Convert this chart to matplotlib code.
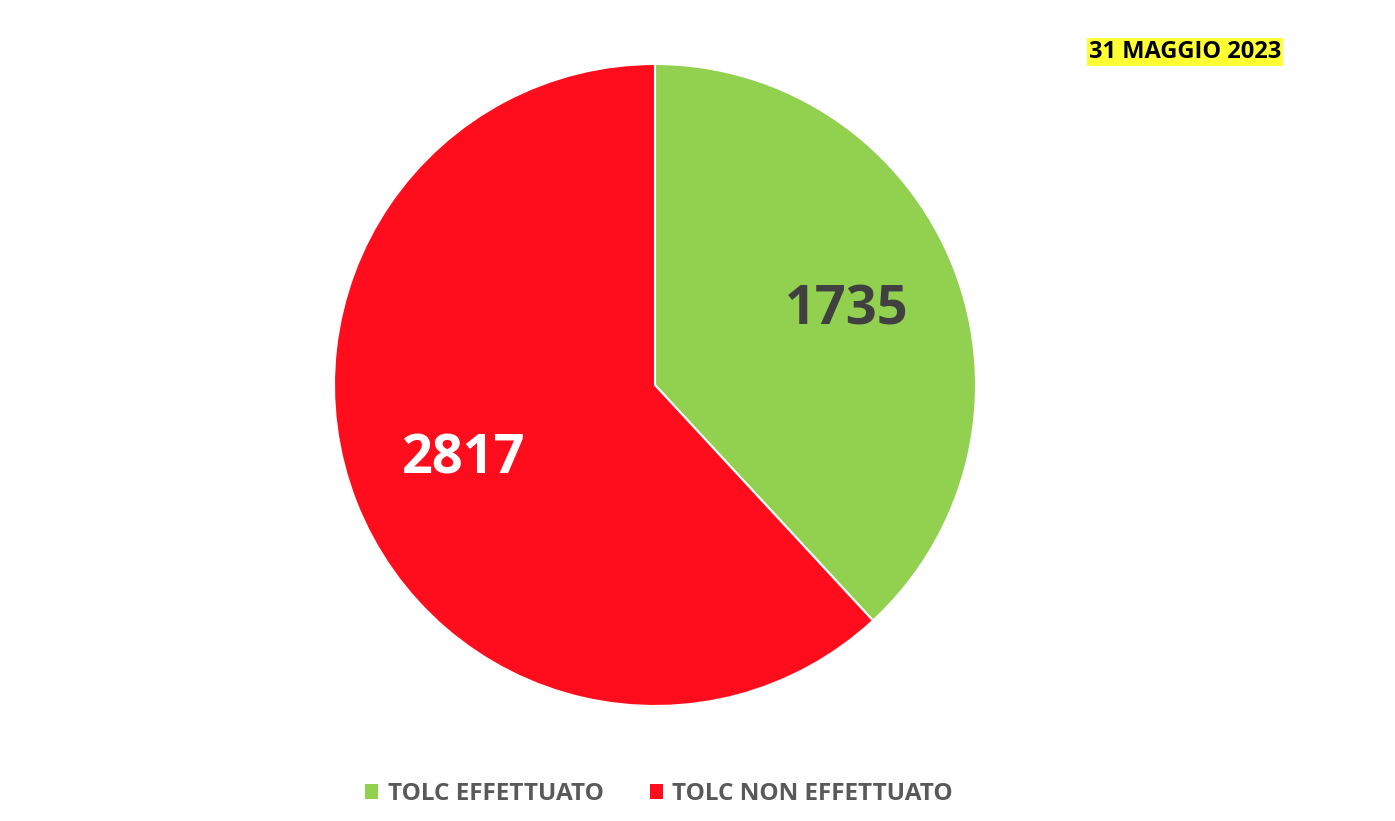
import matplotlib
matplotlib.use("Agg")
import matplotlib.pyplot as plt
from matplotlib.patches import Patch

categories = ["TOLC EFFETTUATO", "TOLC NON EFFETTUATO"]
values = [1735, 2817]
colors = ["#92D050", "#FF0D1D"]
label_colors = ["#404040", "#FFFFFF"]
date_text = "31 MAGGIO 2023"

W, H = 1395, 821
fig = plt.figure(figsize=(W / 100, H / 100), dpi=100)
cx, cy, r = 655, 385, 321
ax = fig.add_axes([(cx - r) / W, (H - cy - r) / H, 2 * r / W, 2 * r / H])

total = sum(values)
wedges, texts, autotexts = ax.pie(
    values, colors=colors, startangle=90, counterclock=False, radius=1,
    autopct=lambda p: f"{round(p * total / 100):d}", pctdistance=0.64,
    wedgeprops=dict(edgecolor="white", linewidth=1.5),
    textprops=dict(fontfamily="Open Sans", fontweight="bold", fontsize=39))
for t, c in zip(autotexts, label_colors):
    t.set_color(c)
ax.set_xlim(-1, 1)
ax.set_ylim(-1, 1)
ax.set_aspect("equal")
ax.axis("off")

handles = [Patch(facecolor=c, edgecolor="none") for c in colors]
leg = fig.legend(handles, categories, loc="center", bbox_to_anchor=(659 / W, 1 - 794 / H),
                 ncol=2, frameon=False, handlelength=0.53, handleheight=0.53,
                 handletextpad=0.4, columnspacing=1.9,
                 prop=dict(family="Open Sans", weight="bold", size=17.5))
for t in leg.get_texts():
    t.set_color("#595959")

fig.text(1185 / W, 1 - 52 / H, date_text, ha="center", va="center",
         fontfamily="Open Sans", fontweight="bold", fontsize=17, color="black",
         bbox=dict(facecolor="#FFFF33", edgecolor="none", pad=1.5))

fig.savefig("out.png", dpi=100, facecolor="white")
